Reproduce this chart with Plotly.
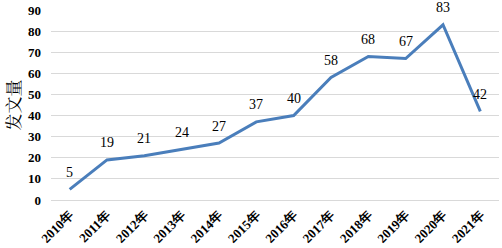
import plotly.graph_objects as go

years = ["2010年", "2011年", "2012年", "2013年", "2014年", "2015年", "2016年",
         "2017年", "2018年", "2019年", "2020年", "2021年"]
counts = [5, 19, 21, 24, 27, 37, 40, 58, 68, 67, 83, 42]
y_ticks = [0, 10, 20, 30, 40, 50, 60, 70, 80, 90]

SERIF = "Liberation Serif, Times New Roman, serif"

fig = go.Figure()
fig.add_trace(go.Scatter(
    x=years, y=counts, mode="lines",
    line=dict(color="#4a7ebb", width=3),
    showlegend=False, hoverinfo="x+y",
))
for yr, v in zip(years, counts):
    fig.add_annotation(x=yr, y=v, text=str(v), showarrow=False, yshift=17,
                       font=dict(family=SERIF, size=14, color="#000000"))

fig.update_layout(
    width=502, height=248,
    margin=dict(l=51, r=3, t=10, b=48),
    plot_bgcolor="white", paper_bgcolor="white",
    font=dict(family=SERIF, color="#000000"),
    xaxis=dict(
        type="category", tickangle=-45, showgrid=False, showline=False,
        range=[-0.5, len(years) - 0.5],
        tickfont=dict(size=13, family=SERIF, weight="bold"),
        ticks="", automargin=False, ticklabelstandoff=4,
    ),
    yaxis=dict(
        range=[0, 90], tickvals=y_ticks, showgrid=True, gridcolor="#d9d9d9",
        gridwidth=1, zeroline=True, zerolinecolor="#d9d9d9", zerolinewidth=1,
        tickfont=dict(size=13, family=SERIF, weight="bold"),
        ticks="", ticklabelstandoff=9, automargin=False, ticklabeloverflow="allow",
        title=dict(text="发文量", font=dict(size=17, family="Noto Serif CJK SC, Noto Sans CJK SC", color="#000000"), standoff=7),
    ),
)
fig.write_html("out.html", config={"displayModeBar": False},
               post_script="document.body.style.margin='0';document.body.style.overflow='hidden';")
